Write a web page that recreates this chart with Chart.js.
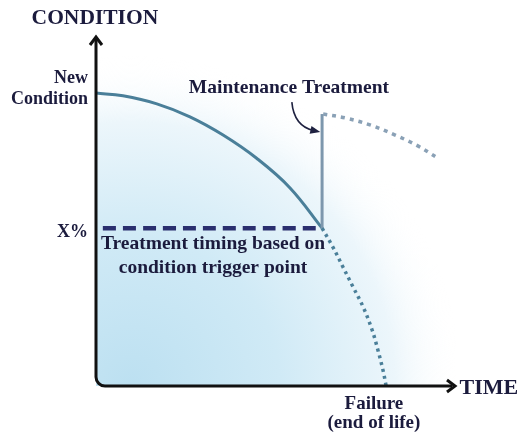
<!DOCTYPE html>
<html>
<head>
<meta charset="utf-8">
<script src="https://cdn.jsdelivr.net/npm/chart.js@4"></script>
<style>
  html, body { margin: 0; padding: 0; background: #fff; }
  canvas { display: block; }
</style>
</head>
<body>
<canvas id="chart" width="517" height="434"></canvas>
<script>
// Curva de deterioro: tiempo (x) vs condición (y), en unidades 0..100.
const decayX = [0, 7.5, 16.9, 26.1, 35.3, 44.7, 53.9, 62.8];
const decayY = [83.7, 82.9, 80.6, 76.9, 71.7, 65, 56.6, 45.1];

// Continuación sin tratamiento hasta la falla
const failX = [62.8, 65.8, 68.6, 71.4, 74.2, 76.7, 78.3, 79.7, 80.6];
const failY = [45.1, 39.7, 34, 28.3, 22.6, 16, 10.3, 4.6, 0];

// Salto por el tratamiento y curva posterior
const jumpX = [62.8, 62.8];
const jumpY = [45.1, 77.7];
const afterX = [63.1, 69.2, 76.1, 83.1, 89.4, 95];
const afterY = [77.7, 76.6, 74.6, 71.7, 68.6, 65.1];

// Umbral X%
const triggerX = [1.9, 62.8];
const triggerY = [45.1, 45.1];

const TEXT = "#1b1b3d";
const SERIF = "'Liberation Serif', 'DejaVu Serif', serif";

const pts = (xs, ys) => xs.map((x, i) => ({ x, y: ys[i] }));

// Fondo con degradado radial desde cerca del origen
const backdrop = {
    id: "backdrop",
    beforeDatasetsDraw(chart) {
        const { ctx, chartArea: a } = chart;
        const cx = a.left + 35;
        const g = ctx.createRadialGradient(cx, a.bottom, 0, cx, a.bottom, 330);
        g.addColorStop(0, "rgb(188,224,241)");
        g.addColorStop(0.45, "rgb(208,234,246)");
        g.addColorStop(0.8, "rgb(236,246,251)");
        g.addColorStop(1, "rgba(255,255,255,0)");
        ctx.save();
        ctx.beginPath();
        ctx.rect(a.left, a.top + 10, a.right - a.left, a.bottom - a.top - 10);
        ctx.clip();
        ctx.fillStyle = g;
        ctx.fillRect(a.left, a.top, a.right - a.left, a.bottom - a.top);
        ctx.restore();
    },
};

// Ejes con flechas, textos y flecha curva
const overlay = {
    id: "overlay",
    afterDraw(chart) {
        const { ctx, chartArea: a } = chart;
        const sx = chart.scales.x, sy = chart.scales.y;
        const px = (v) => sx.getPixelForValue(v);
        const py = (v) => sy.getPixelForValue(v);

        ctx.save();
        // ejes
        const r = 9;
        ctx.strokeStyle = "#111";
        ctx.lineWidth = 3;
        ctx.beginPath();
        ctx.moveTo(a.left, a.top + 2);
        ctx.lineTo(a.left, a.bottom - r);
        ctx.arcTo(a.left, a.bottom, a.left + r, a.bottom, r);
        ctx.lineTo(a.right - 4, a.bottom);
        ctx.stroke();
        // puntas de flecha
        ctx.beginPath();
        ctx.moveTo(a.left - 6, a.top + 9);
        ctx.lineTo(a.left, a.top + 1);
        ctx.lineTo(a.left + 6, a.top + 9);
        ctx.stroke();
        ctx.beginPath();
        ctx.moveTo(a.right - 9, a.bottom - 6);
        ctx.lineTo(a.right - 1, a.bottom);
        ctx.lineTo(a.right - 9, a.bottom + 6);
        ctx.stroke();

        // flecha curva del tratamiento
        const x0 = px(54.4), y0 = py(81.1);
        const cx = px(55), cy = py(74.3);
        const x1 = px(60.4), y1 = py(73);
        ctx.strokeStyle = "#1e2140";
        ctx.lineWidth = 1.6;
        ctx.beginPath();
        ctx.moveTo(x0, y0);
        ctx.quadraticCurveTo(cx, cy, x1, y1);
        ctx.stroke();
        const ang = Math.atan2(y1 - cy, x1 - cx);
        ctx.fillStyle = "#1e2140";
        ctx.beginPath();
        ctx.moveTo(x1 + 7 * Math.cos(ang), y1 + 7 * Math.sin(ang));
        ctx.lineTo(x1 + 5 * Math.cos(ang + 2.2), y1 + 5 * Math.sin(ang + 2.2));
        ctx.lineTo(x1 + 5 * Math.cos(ang - 2.2), y1 + 5 * Math.sin(ang - 2.2));
        ctx.closePath();
        ctx.fill();

        // textos
        ctx.fillStyle = TEXT;
        ctx.textBaseline = "middle";
        const txt = (s, x, y, size, align) => {
            ctx.font = `bold ${size}px ${SERIF}`;
            ctx.textAlign = align;
            ctx.fillText(s, px(x), py(y));
        };
        txt("CONDITION", -0.3, 105.1, 21.5, "center");
        txt("New", -2.2, 88, 18, "right");
        txt("Condition", -2.2, 82, 18, "right");
        txt("X%", -2.2, 44, 18, "right");
        txt("Maintenance Treatment", 53.6, 85.1, 19.5, "center");
        txt("Treatment timing based on", 32.5, 40.6, 19.5, "center");
        txt("condition trigger point", 32.5, 33.7, 19.5, "center");
        txt("Failure", 77.2, -5.3, 19, "center");
        txt("(end of life)", 77.2, -10.5, 19, "center");
        txt("TIME", 101, -0.6, 22, "left");
        ctx.restore();
    },
};

const line = (data, color, width, dash) => ({
    data,
    borderColor: color,
    borderWidth: width,
    borderDash: dash || [],
    pointRadius: 0,
    showLine: true,
    fill: false,
    clip: false,
    tension: 0.4,
    borderCapStyle: "butt",
});

new Chart(document.getElementById("chart"), {
    type: "scatter",
    data: {
        datasets: [
            line(pts(triggerX, triggerY), "#2a2f6f", 4.5, [13, 7]),
            line(pts(failX, failY), "#4a7f99", 3.5, [3, 4]),
            line(pts(afterX, afterY), "#8aa1b6", 3.5, [4, 5]),
            line(pts(jumpX, jumpY), "#7d97ad", 3, []),
            line(pts(decayX, decayY), "#4a7f99", 3, []),
        ],
    },
    options: {
        responsive: false,
        animation: false,
        layout: { padding: { left: 96, right: 61, top: 36, bottom: 48 } },
        plugins: { legend: { display: false }, tooltip: { enabled: false } },
        scales: {
            x: { type: "linear", min: 0, max: 100, display: false },
            y: { type: "linear", min: 0, max: 100, display: false },
        },
    },
    plugins: [backdrop, overlay],
});
</script>
</body>
</html>
